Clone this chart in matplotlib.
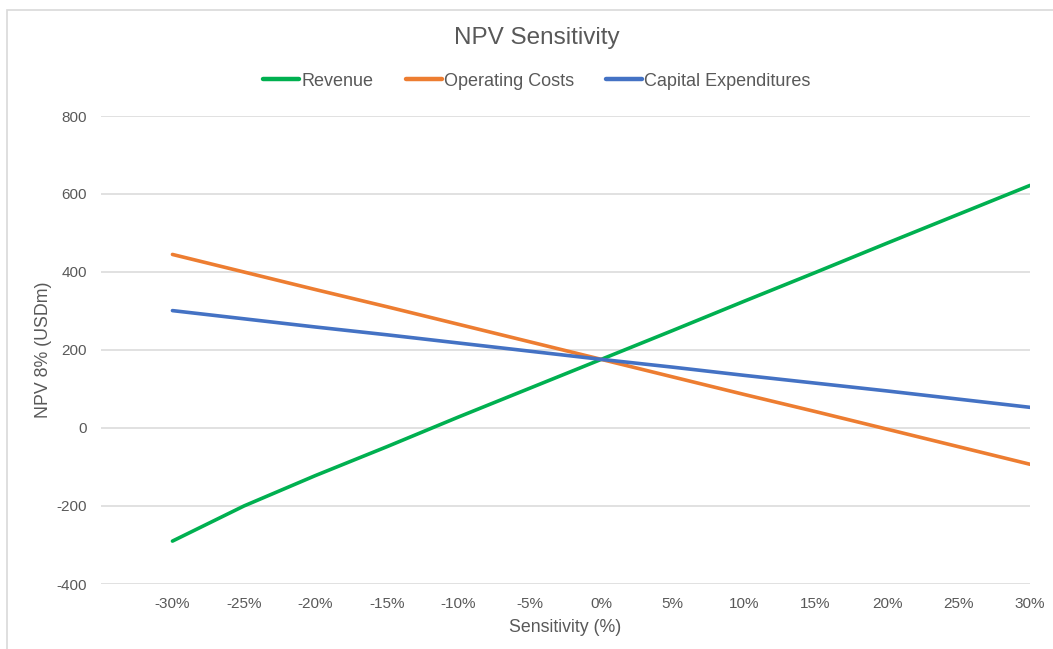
import matplotlib.pyplot as plt
from matplotlib.patches import Rectangle

sensitivity = [-30, -25, -20, -15, -10, -5, 0, 5, 10, 15, 20, 25, 30]
revenue = [-290, -200, -122, -48, 28, 102, 176, 250, 325, 399, 474, 548, 622]
operating_costs = [445, 400, 355, 311, 266, 221, 176, 131, 86, 42, -3, -48, -93]
capex = [301, 280, 259, 239, 218, 197, 176, 156, 135, 115, 95, 74, 53]
x_labels = ['-30%', '-25%', '-20%', '-15%', '-10%', '-5%', '0%', '5%', '10%', '15%', '20%', '25%', '30%']
y_ticks = [-400, -200, 0, 200, 400, 600, 800]
y_labels = ['-400', '-200', '0', '200', '400', '600', '800']

grey = '#595959'
plt.rcParams['font.family'] = ['Liberation Sans', 'DejaVu Sans']


def main():
    fig = plt.figure(figsize=(10.53, 6.49), dpi=100)
    # chart frame like the spreadsheet border
    fig.patches.append(Rectangle((7 / 1053, -0.1), 1.2, 1 - 10 / 649 + 0.1,
                                 transform=fig.transFigure, fill=False,
                                 edgecolor='#D9D9D9', linewidth=1.2))
    ax = fig.add_axes([101 / 1053, 1 - 584 / 649, (1030 - 101) / 1053, (584 - 116) / 649])

    ax.plot(sensitivity, revenue, color='#00B050', lw=2.6, label='Revenue', solid_capstyle='round')
    ax.plot(sensitivity, operating_costs, color='#ED7D31', lw=2.6, label='Operating Costs', solid_capstyle='round')
    ax.plot(sensitivity, capex, color='#4472C4', lw=2.6, label='Capital Expenditures', solid_capstyle='round')

    ax.set_xlim(-35, 30)
    ax.set_ylim(-400, 800)
    ax.set_xticks(sensitivity)
    ax.set_xticklabels(x_labels)
    ax.set_yticks(y_ticks)
    ax.set_yticklabels(y_labels)
    ax.tick_params(axis='both', length=0, labelsize=11, colors=grey)
    ax.tick_params(axis='x', pad=9)
    ax.tick_params(axis='y', pad=10)
    ax.grid(True, axis='y', color='#D9D9D9', lw=1.1)
    ax.set_axisbelow(True)
    for s in ax.spines.values():
        s.set_visible(False)

    ax.set_xlabel('Sensitivity (%)', fontsize=12.8, color=grey, labelpad=6)
    ax.set_ylabel('NPV 8% (USDm)', fontsize=12.8, color=grey, va='center')
    ax.yaxis.set_label_coords((44 - 101) / 929, 0.5)

    fig.text(537 / 1053, 1 - 38 / 649, 'NPV Sensitivity', ha='center', va='center', fontsize=17.5, color=grey)
    leg = fig.legend(loc='center', bbox_to_anchor=(537 / 1053, 1 - 81 / 649), ncol=3, frameon=False,
                     fontsize=13, labelcolor=grey, handlelength=2.0, handletextpad=0.1, columnspacing=1.8)
    for line in leg.get_lines():
        line.set_linewidth(3.2)

    plt.savefig('out.png', dpi=100)


main()
